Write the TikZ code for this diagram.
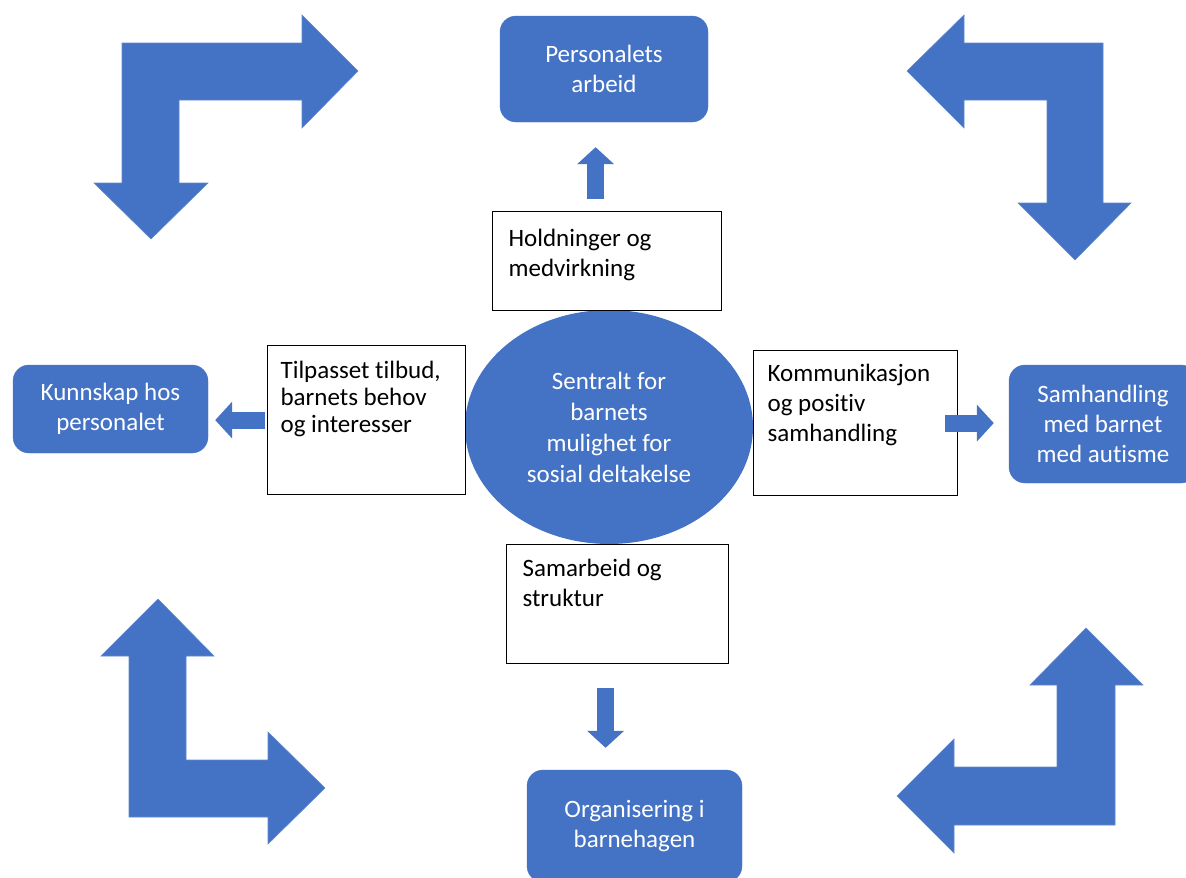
\documentclass[tikz,border=0pt]{standalone}
\usepackage{fontspec}
\setmainfont[Ligatures=NoCommon]{Carlito}
\usetikzlibrary{shapes.geometric,arrows.meta}
\definecolor{officeblue}{HTML}{4472C4}

\begin{document}
\begin{tikzpicture}[x=1pt,y=-1pt]

    \tikzstyle{block} = [rectangle, fill=officeblue, draw=officeblue, rounded corners=16pt, text=white, align=center, font=\fontsize{25}{30}\selectfont, inner sep=0pt]
    \tikzstyle{note} = [rectangle, draw=black, line width=1.2pt, fill=white, anchor=north west, align=flush left, inner ysep=0pt, font=\fontsize{25}{30}\selectfont]
    \tikzstyle{bigarrow} = [fill=officeblue, draw=officeblue!85!white, line width=0.6pt]
    \tikzstyle{link} = [draw=officeblue, line width=17pt, -{Triangle[width=36pt,length=17pt]}]

    \clip (0,0) rectangle (1186,878);

    % corner arrows
    \draw [bigarrow] (358,71) -- (302,128) -- (302,100) -- (179,100) -- (179,183) -- (208,183) -- (151,239) -- (94,183) -- (122,183) -- (122,43) -- (302,43) -- (302,15) -- cycle;
    \draw [bigarrow] (907,71) -- (964,15) -- (964,43) -- (1103,43) -- (1103,203) -- (1131,203) -- (1075,260) -- (1018,203) -- (1047,203) -- (1047,100) -- (964,100) -- (964,128) -- cycle;
    \draw [bigarrow] (158,599) -- (214,656) -- (186,656) -- (186,760) -- (268,760) -- (268,732) -- (325,788) -- (268,844) -- (268,817) -- (129,817) -- (129,656) -- (101,656) -- cycle;
    \draw [bigarrow] (1086,628) -- (1143,685) -- (1115,685) -- (1115,825) -- (954,825) -- (954,853) -- (897,796) -- (954,739) -- (954,767) -- (1057,767) -- (1057,685) -- (1030,685) -- cycle;

    \node (centre) [ellipse, fill=officeblue, minimum width=288pt, minimum height=234pt, inner sep=0pt, text=white, align=center, font=\fontsize{25}{31}\selectfont] at (609,427) {Sentralt for\\ barnets\\ mulighet for\\ sosial deltakelse};

    \node (pers) [block, minimum width=208pt, minimum height=106pt] at (604,69) {Personalets\\ arbeid};
    \node (kunn) [block, minimum width=195pt, minimum height=88pt] at (110.5,409) {Kunnskap hos\\ personalet};
    \node (samh) [block, minimum width=188pt, minimum height=118pt] at (1103,424) {Samhandling\\ med barnet\\ med autisme};
    \node (org) [block, minimum width=215pt, minimum height=112pt] at (634.5,826) {Organisering i\\ barnehagen};

    \node (hold) [note, inner xsep=16pt, text width=197pt, text height=35pt, text depth=64pt] at (492,211) {Holdninger og\\ medvirkning};
    \node (tilp) [note, inner xsep=13pt, text width=172pt, text height=33pt, text depth=116pt, font=\fontsize{25}{27}\selectfont] at (267,345) {Tilpasset tilbud,\\ barnets behov\\ og interesser};
    \node (komm) [note, inner xsep=14pt, text width=176pt, text height=31pt, text depth=114pt] at (753,350) {Kommunikasjon\\ og positiv\\ samhandling};
    \node (sama) [note, inner xsep=16pt, text width=190pt, text height=32pt, text depth=87pt] at (506,544) {Samarbeid og\\ struktur};

    \draw [link, shorten <=12pt, shorten >=25pt] ([xshift=-11.5pt]hold.north) -- ([xshift=-11.5pt]hold.north |- pers.south);
    \draw [link, shorten <=2pt, shorten >=7pt] (tilp.west) -- (tilp.west -| kunn.east);
    \draw [link, shorten <=-13pt, shorten >=15pt] (komm.east) -- (komm.east -| samh.west);
    \draw [link, shorten <=24pt, shorten >=22pt] ([xshift=-12pt]sama.south) -- ([xshift=-12pt]sama.south |- org.north);

\end{tikzpicture}
\end{document}
